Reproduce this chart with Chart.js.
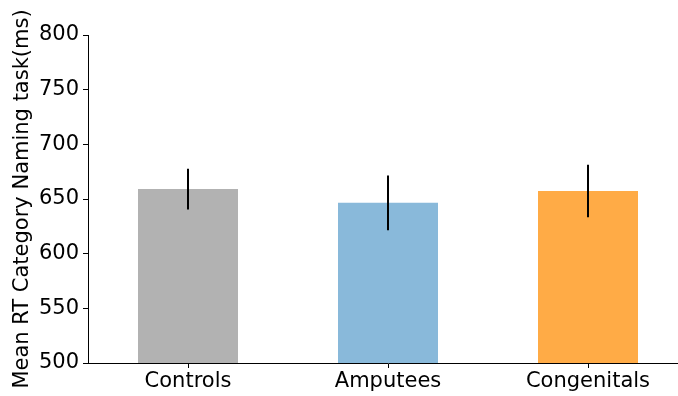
<!DOCTYPE html>
<html>
<head>
<meta charset="utf-8">
<script src="https://cdn.jsdelivr.net/npm/chart.js@4/dist/chart.umd.min.js"></script>
<style>
  html, body { margin: 0; padding: 0; background: #fff; overflow: hidden; width: 678px; height: 396px; }
  canvas { display: block; }
</style>
</head>
<body>
<canvas id="rt" width="688" height="396"></canvas>
<script>
// Group means and standard errors for the category naming task
const groups = ['Controls', 'Amputees', 'Congenitals'];
const meanRT = [659.1, 646.5, 657.3];
const errRT = [18.6, 25.0, 24.1];
const barColors = ['#b2b2b2', '#89b9da', '#ffab46'];
const yTicks = [500, 550, 600, 650, 700, 750, 800];

const font = { family: 'DejaVu Sans', size: 21 };

// Vertical error bars (no caps), drawn through the value scale
const errorBars = {
  id: 'errorBars',
  afterDatasetsDraw(chart) {
    const ctx = chart.ctx;
    const y = chart.scales.y;
    const meta = chart.getDatasetMeta(0);
    ctx.save();
    ctx.strokeStyle = '#000';
    ctx.lineWidth = 2;
    meta.data.forEach((bar, i) => {
      const top = y.getPixelForValue(meanRT[i] + errRT[i]);
      const bot = y.getPixelForValue(meanRT[i] - errRT[i]);
      ctx.beginPath();
      ctx.moveTo(Math.round(bar.x), top);
      ctx.lineTo(Math.round(bar.x), bot);
      ctx.stroke();
    });
    ctx.restore();
  }
};

new Chart(document.getElementById('rt'), {
  type: 'bar',
  data: {
    labels: groups,
    datasets: [{
      data: meanRT,
      backgroundColor: barColors,
      borderWidth: 0,
      categoryPercentage: 0.5,
      barPercentage: 1.0
    }]
  },
  options: {
    responsive: false,
    animation: false,
    devicePixelRatio: 1,
    layout: { padding: { top: 35, left: 0, right: 0, bottom: 0 } },
    plugins: { legend: { display: false }, tooltip: { enabled: false } },
    scales: {
      x: {
        offset: true,
        grid: { display: true, offset: false, drawOnChartArea: false, drawTicks: true, tickLength: 5, color: '#000', tickWidth: 1 },
        border: { display: true, color: '#000', width: 1 },
        ticks: { color: '#000', font: font, padding: 1, maxRotation: 0 },
        afterFit(scale) { scale.height = 33; }
      },
      y: {
        min: 500,
        max: 800,
        afterBuildTicks(scale) { scale.ticks = yTicks.map(v => ({ value: v })); },
        grid: { display: true, drawOnChartArea: false, drawTicks: true, tickLength: 5, color: '#000', tickWidth: 1 },
        border: { display: true, color: '#000', width: 1 },
        ticks: { color: '#000', font: font, padding: 4 },
        title: {
          display: true,
          text: 'Mean RT Category Naming task(ms)',
          color: '#000',
          font: font,
          padding: { top: 10, bottom: 0 }
        },
        afterFit(scale) { scale.width = 88; }
      }
    }
  },
  plugins: [errorBars]
});
</script>
</body>
</html>
